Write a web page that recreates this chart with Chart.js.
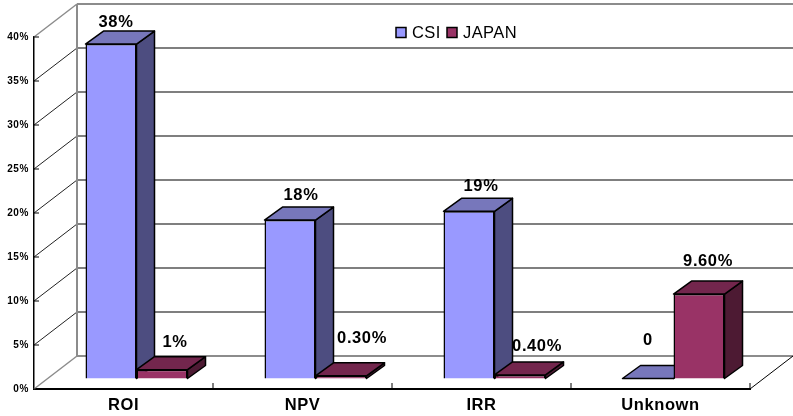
<!DOCTYPE html>
<html>
<head>
<meta charset="utf-8">
<title>CSI vs JAPAN</title>
<script src="https://cdn.jsdelivr.net/npm/chart.js@4"></script>
<style>
  html, body { margin: 0; padding: 0; background: #fff; }
  canvas { display: block; }
</style>
</head>
<body>
<canvas id="stats" width="793" height="416"></canvas>
<script>
const categories = ['ROI', 'NPV', 'IRR', 'Unknown'];
const csiValues = [38, 18, 19, 0];
const japanValues = [1, 0.3, 0.4, 9.6];
const csiLabels = ['38%', '18%', '19%', '0'];
const japanLabels = ['1%', '0.30%', '0.40%', '9.60%'];

// floor depth, and how far the bars sit inside it
const wallDepth = { x: 43, y: -33 };
const barShift = { x: 13, y: -10.5 };
const barDepth = { x: 18, y: -13 };

// hand placed labels in the original, offset from the top of each bar
const csiNudge = [[5, -22], [11, -24.5], [12, -25], [0, -38]];
const japanNudge = [[13, -27], [21, -37], [17, -29], [9, -33]];

const faces = [
  { top: '#7777BB', side: '#4D4D80' },
  { top: '#73264D', side: '#4D1A33' }
];

function line(ctx, x1, y1, x2, y2, color, width) {
  ctx.strokeStyle = color;
  ctx.lineWidth = width;
  ctx.beginPath();
  ctx.moveTo(x1, y1);
  ctx.lineTo(x2, y2);
  ctx.stroke();
}

function poly(ctx, points, fill) {
  ctx.fillStyle = fill;
  ctx.strokeStyle = '#000';
  ctx.lineWidth = 1.5;
  ctx.lineJoin = 'round';
  ctx.beginPath();
  points.forEach((p, i) => i ? ctx.lineTo(p[0], p[1]) : ctx.moveTo(p[0], p[1]));
  ctx.closePath();
  ctx.fill();
  ctx.stroke();
}

function drawWalls(chart) {
  const ctx = chart.ctx;
  const area = chart.chartArea;
  const yScale = chart.scales.y;
  const xScale = chart.scales.x;
  const dx = wallDepth.x;
  const dy = wallDepth.y;

  yScale.ticks.forEach(t => {
    const y = yScale.getPixelForValue(t.value);
    const edge = t.value === 0 || t.value === yScale.max;
    const color = edge ? '#8c8c8c' : '#222';
    line(ctx, area.left, y, area.left + dx, y + dy, color, edge ? 1.5 : 1);
    line(ctx, area.left + dx, y + dy, chart.width, y + dy, edge ? '#8c8c8c' : '#555', edge ? 2 : 1.5);
    // inside tick marks
    line(ctx, area.left, y, area.left + 5, y, '#000', 1);
  });
  line(ctx, area.left + dx, area.top + dy, area.left + dx, area.bottom + dy, '#8c8c8c', 2);
  line(ctx, area.right, area.bottom, area.right + dx, area.bottom + dy, '#000', 1);

  // category dividers on the floor edge
  for (let i = 1; i <= categories.length; i++) {
    const x = area.left + i * (xScale.getPixelForTick(1) - xScale.getPixelForTick(0));
    line(ctx, x, area.bottom, x, area.bottom - 6, '#000', 1);
  }
}

function drawDepth(chart) {
  const ctx = chart.ctx;
  const dx = barDepth.x;
  const dy = barDepth.y;
  categories.forEach((c, i) => {
    chart.data.datasets.forEach((ds, d) => {
      const bar = chart.getDatasetMeta(d).data[i];
      const left = bar.x - bar.width / 2;
      const right = bar.x + bar.width / 2;
      poly(ctx, [[right, bar.y], [right + dx, bar.y + dy], [right + dx, bar.base + dy], [right, bar.base]], faces[d].side);
      poly(ctx, [[left, bar.y], [left + dx, bar.y + dy], [right + dx, bar.y + dy], [right, bar.y]], faces[d].top);
    });
  });
}

function drawLabels(chart) {
  const ctx = chart.ctx;
  const texts = [csiLabels, japanLabels];
  const nudges = [csiNudge, japanNudge];
  ctx.fillStyle = '#000';
  ctx.font = 'bold 16.5px "Liberation Sans"';
  ctx.textAlign = 'center';
  ctx.textBaseline = 'middle';
  chart.data.datasets.forEach((ds, d) => {
    chart.getDatasetMeta(d).data.forEach((bar, i) => {
      ctx.fillText(texts[d][i], bar.x + nudges[d][i][0], bar.y + nudges[d][i][1]);
    });
  });
}

function drawLegend(chart) {
  const ctx = chart.ctx;
  const y = 33;
  let x = 396;
  ctx.font = '16.5px "Liberation Sans"';
  ctx.textAlign = 'left';
  ctx.textBaseline = 'middle';
  ctx.letterSpacing = '0.4px';
  chart.data.datasets.forEach(ds => {
    ctx.fillStyle = ds.backgroundColor;
    ctx.strokeStyle = '#000';
    ctx.lineWidth = 1.5;
    ctx.fillRect(x, y - 5.5, 10, 10);
    ctx.strokeRect(x, y - 5.5, 10, 10);
    ctx.fillStyle = '#000';
    ctx.fillText(ds.label, x + 16, y);
    x += 51;
  });
}

const depthPlugin = {
  id: 'depth',
  beforeDraw(chart) {
    chart.ctx.letterSpacing = '0.6px';
  },
  beforeDatasetsDraw(chart) {
    drawWalls(chart);
    const ctx = chart.ctx;
    ctx.save();
    ctx.translate(barShift.x, barShift.y);
    drawDepth(chart);
  },
  afterDatasetsDraw(chart) {
    const ctx = chart.ctx;
    drawLabels(chart);
    ctx.restore();
    drawLegend(chart);
  }
};

new Chart(document.getElementById('stats'), {
  type: 'bar',
  data: {
    labels: categories,
    datasets: [
      { label: 'CSI', data: csiValues, backgroundColor: '#9999FF' },
      { label: 'JAPAN', data: japanValues, backgroundColor: '#993366' }
    ]
  },
  options: {
    responsive: false,
    animation: false,
    layout: { padding: { top: 37, right: 43, left: 0, bottom: 0 } },
    datasets: {
      bar: {
        barPercentage: 1,
        categoryPercentage: 0.57,
        borderColor: '#000',
        borderWidth: 1.5,
        clip: false
      }
    },
    scales: {
      x: {
        afterFit: s => { s.height = 27; },
        grid: { display: false, drawTicks: false, tickLength: 0 },
        border: { color: '#000', width: 2 },
        ticks: {
          color: '#000',
          padding: 7,
          maxRotation: 0,
          font: { family: '"Liberation Sans"', size: 16.5, weight: 'bold' }
        }
      },
      y: {
        min: 0,
        max: 40,
        afterFit: s => { s.width = 34; },
        grid: { display: false, drawTicks: false, tickLength: 0 },
        border: { color: '#000', width: 1.5 },
        ticks: {
          color: '#000',
          stepSize: 5,
          padding: 5,
          callback: v => v + '%',
          font: { family: '"Liberation Sans"', size: 10, weight: 'bold' }
        }
      }
    },
    plugins: {
      legend: { display: false },
      tooltip: { enabled: false }
    }
  },
  plugins: [depthPlugin]
});
</script>
</body>
</html>
